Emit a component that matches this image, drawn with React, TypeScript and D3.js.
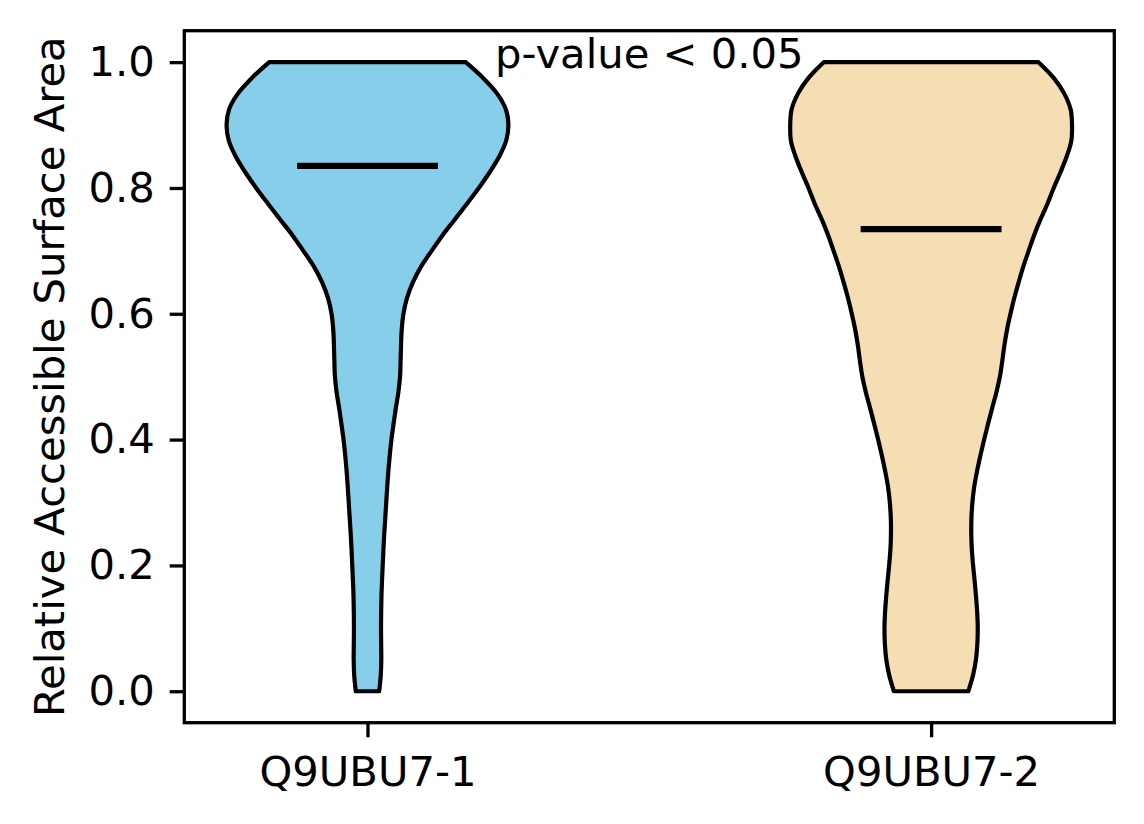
import * as d3 from "d3";
import { useRef, useEffect } from "react";

// category labels and their x positions
const categories = ["Q9UBU7-1", "Q9UBU7-2"];
const positions = [1, 2];
const fills = ["#87CEEB", "#F5DEB3"];

const rsaLevels = [
  0, 0.025, 0.05, 0.075, 0.1, 0.125, 0.15, 0.175, 0.2, 0.225, 0.25, 0.275, 0.3, 0.325,
  0.35, 0.375, 0.4, 0.425, 0.45, 0.475, 0.5, 0.525, 0.55, 0.575, 0.6, 0.625, 0.65,
  0.675, 0.7, 0.725, 0.75, 0.775, 0.8, 0.825, 0.85, 0.875, 0.9, 0.925, 0.95, 0.975, 1.0,
];

// relative density (scaled to each violin's max)
const densityIso1 = [
  0.083, 0.094, 0.098, 0.097, 0.096, 0.097, 0.099, 0.103, 0.108, 0.113, 0.119, 0.126,
  0.133, 0.14, 0.148, 0.158, 0.17, 0.185, 0.201, 0.219, 0.231, 0.235, 0.238, 0.243,
  0.255, 0.28, 0.322, 0.38, 0.455, 0.533, 0.62, 0.706, 0.79, 0.867, 0.935, 0.984, 1.0,
  0.982, 0.92, 0.82, 0.697,
];
const densityIso2 = [
  0.264, 0.297, 0.318, 0.328, 0.331, 0.327, 0.319, 0.309, 0.298, 0.289, 0.285, 0.286,
  0.293, 0.306, 0.326, 0.35, 0.376, 0.404, 0.433, 0.463, 0.488, 0.505, 0.52, 0.539,
  0.563, 0.59, 0.621, 0.654, 0.692, 0.731, 0.776, 0.826, 0.87, 0.918, 0.962, 0.995, 1.0,
  0.99, 0.945, 0.87, 0.762,
];
const densities = [densityIso1, densityIso2];

// medians
const medians = [0.835, 0.7345];

const yTicks = [0, 0.2, 0.4, 0.6, 0.8, 1.0];
const annotation = "p-value < 0.05";
const yLabel = "Relative Accessible Surface Area";

export default function App() {
  const width = 1144;
  const height = 824;
  const plot = { left: 184.3, right: 1114.3, top: 30.7, bottom: 722.7 };
  const font = "'DejaVu Sans', sans-serif";
  const fontSize = 41.7;

  const xScale = d3
    .scaleLinear()
    .domain([0.675, 2.325])
    .range([plot.left, plot.right]);

  const yScale = d3
    .scaleLinear()
    .domain([-0.05, 1.05])
    .range([plot.bottom, plot.top]);

  // half-width of a violin in x data units (widths=0.5)
  const halfWidth = d3.scaleLinear().domain([0, 1]).range([0, 0.25]);

  const xAxisRef = useRef<SVGGElement>(null);
  const yAxisRef = useRef<SVGGElement>(null);

  useEffect(() => {
    if (xAxisRef.current) {
      const xAxis = d3
        .axisBottom(xScale)
        .tickValues(positions)
        .tickFormat((d, i) => categories[i])
        .tickSize(14.6)
        .tickPadding(19);
      const g = d3.select(xAxisRef.current).call(xAxis);
      g.select(".domain").remove();
      g.selectAll("line").attr("stroke-width", 3.3);
      g.selectAll("text").attr("font-size", fontSize).attr("font-family", font).attr("fill", "#000");
    }
    if (yAxisRef.current) {
      const yAxis = d3
        .axisLeft(yScale)
        .tickValues(yTicks)
        .tickFormat(d3.format(".1f"))
        .tickSize(14.6)
        .tickPadding(15);
      const g = d3.select(yAxisRef.current).call(yAxis);
      g.select(".domain").remove();
      g.selectAll("line").attr("stroke-width", 3.3);
      g.selectAll("text").attr("font-size", fontSize).attr("font-family", font).attr("fill", "#000");
    }
  }, [xScale, yScale]);

  return (
    <svg
      width={width}
      height={height}
      style={{ position: "absolute", left: 0, top: 0, background: "#fff" }}
    >
      {densities.map((dens, k) => {
        const pos = positions[k];
        const area = d3
          .area<number>()
          .y((_, i) => yScale(rsaLevels[i]))
          .x0((d) => xScale(pos - halfWidth(d)))
          .x1((d) => xScale(pos + halfWidth(d)))
          .curve(d3.curveCatmullRom);
        return (
          <path
            key={k}
            d={area(dens) || ""}
            fill={fills[k]}
            stroke="#000"
            strokeWidth={4.2}
            strokeLinejoin="round"
          />
        );
      })}

      {medians.map((m, k) => (
        <line
          key={k}
          x1={xScale(positions[k] - 0.125)}
          x2={xScale(positions[k] + 0.125)}
          y1={yScale(m)}
          y2={yScale(m)}
          stroke="#000"
          strokeWidth={6.2}
        />
      ))}

      <text
        x={(plot.left + plot.right) / 2}
        y={yScale(1.0) + 6}
        textAnchor="middle"
        fontSize={fontSize}
        fontFamily={font}
      >
        {annotation}
      </text>

      {/* frame */}
      <rect
        x={plot.left}
        y={plot.top}
        width={plot.right - plot.left}
        height={plot.bottom - plot.top}
        fill="none"
        stroke="#000"
        strokeWidth={3.3}
      />

      <g ref={xAxisRef} transform={`translate(0, ${plot.bottom})`} />
      <g ref={yAxisRef} transform={`translate(${plot.left}, 0)`} />

      <text
        transform={`translate(64, ${(plot.top + plot.bottom) / 2}) rotate(-90)`}
        textAnchor="middle"
        fontSize={fontSize}
        fontFamily={font}
      >
        {yLabel}
      </text>
    </svg>
  );
}
